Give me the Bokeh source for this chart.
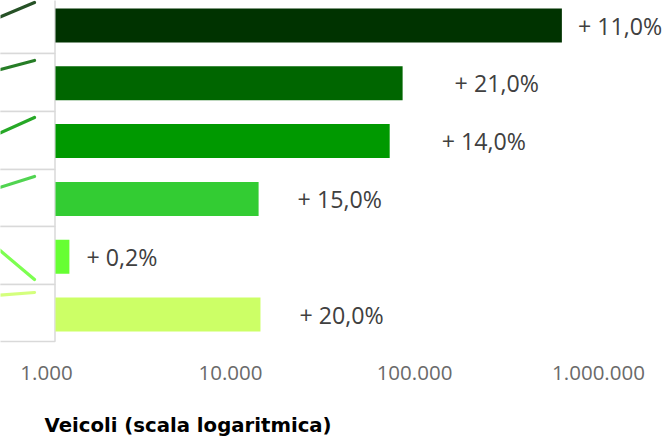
from bokeh.plotting import figure
from bokeh.embed import file_html
from bokeh.resources import INLINE
from bokeh.models import ColumnDataSource, Range1d, LinearScale, LogScale, LogAxis, LinearAxis, FixedTicker, Title

vehicles = [565000, 77000, 65500, 12700, 1190, 13000]
growth_labels = ["+ 11,0%", "+ 21,0%", "+ 14,0%", "+ 15,0%", "+ 0,2%", "+ 20,0%"]
label_gaps = [16, 52, 52, 39, 17, 39]
colors = ["#003300", "#006600", "#009900", "#33CC33", "#66FF33", "#CCFF66"]
tick_values = [1000, 10000, 100000, 1000000]
tick_labels = ["1.000", "10.000", "100.000", "1.000.000"]
axis_title = "Veicoli (scala logaritmica)"
spark_start = [18, 70, 134, 188, 247, 295]
spark_end = [2, 60, 117, 176, 279, 292]
panel_top = [-5, 53, 111, 169, 226, 284]
panel_bottom = [53, 111, 169, 226, 284, 341]

W, H = 663, 439
PAGE = 0
BASE_X = 55
DECADE = 184
FRAME_BOTTOM = 350
rows = list(range(len(vehicles)))
PITCH = 57.8


def xr(px):
    return 10 ** (3 + (px - BASE_X) / DECADE)


p = figure(width=W, height=H, output_backend="svg", toolbar_location=None,
           x_axis_type="log", x_range=Range1d(xr(PAGE), xr(PAGE + W)),
           y_range=Range1d((FRAME_BOTTOM - 25) / PITCH, (PAGE - 25) / PITCH),
           x_axis_location=None, y_axis_location=None,
           min_border_left=0, min_border_right=0, min_border_top=0,
           min_border_bottom=PAGE + H - FRAME_BOTTOM)
p.grid.visible = False
p.outline_line_color = None
p.background_fill_color = "white"

shift = 9
p.extra_x_ranges = {"axis": Range1d(xr(PAGE + shift), xr(PAGE + W + shift)),
                    "px": Range1d(PAGE, PAGE + W)}
p.extra_x_scales = {"axis": LogScale(), "px": LinearScale()}
p.extra_y_ranges = {"px": Range1d(FRAME_BOTTOM, PAGE)}

# sparkline thumbnails
p.quad(left=[-10] * 6, right=[54.5] * 6, top=panel_top, bottom=panel_bottom,
       fill_color="white", line_color="#d9d9d9", line_width=1.5,
       x_range_name="px", y_range_name="px")
p.segment(x0=[-4] * 6, x1=[34] * 6, y0=spark_start, y1=spark_end,
          line_color=colors, line_width=3.2, line_cap="round", line_alpha=0.85,
          x_range_name="px", y_range_name="px")

src = ColumnDataSource(dict(y=rows, v=vehicles, base=[1000] * 6, c=colors,
                            t=growth_labels, off=label_gaps))
p.hbar(y="y", left="base", right="v", height=34 / PITCH, fill_color="c", line_color=None, source=src)
p.text(x="v", y="y", text="t", x_offset="off", source=src, text_font={"value": "Open Sans"},
       text_font_size="17.4pt", text_color="#404040", text_align="left", text_baseline="middle")

ax = LogAxis(x_range_name="axis", ticker=FixedTicker(ticks=tick_values),
             major_label_overrides={k: v for k, v in zip(tick_values, tick_labels)})
ax.axis_line_color = None
ax.major_tick_line_color = None
ax.minor_tick_line_color = None
ax.major_label_text_font = "Open Sans"
ax.major_label_text_font_size = "20.5px"
ax.major_label_text_color = "#6a6a6a"
ax.major_label_standoff = 9
p.add_layout(ax, "below")

spacer = LinearAxis(x_range_name="px", ticker=FixedTicker(ticks=[]), axis_label=" ",
                    axis_label_standoff=25, axis_label_text_font_size="1px",
                    axis_line_color=None, major_tick_line_color=None, minor_tick_line_color=None)
p.add_layout(spacer, "below")

p.add_layout(Title(text=axis_title, align="left", offset=44, text_font="DejaVu Sans",
                   text_font_style="bold", text_font_size="19.7px", text_color="#000000",
                   standoff=0), "below")

open("out.html", "w").write(file_html(p, INLINE))
